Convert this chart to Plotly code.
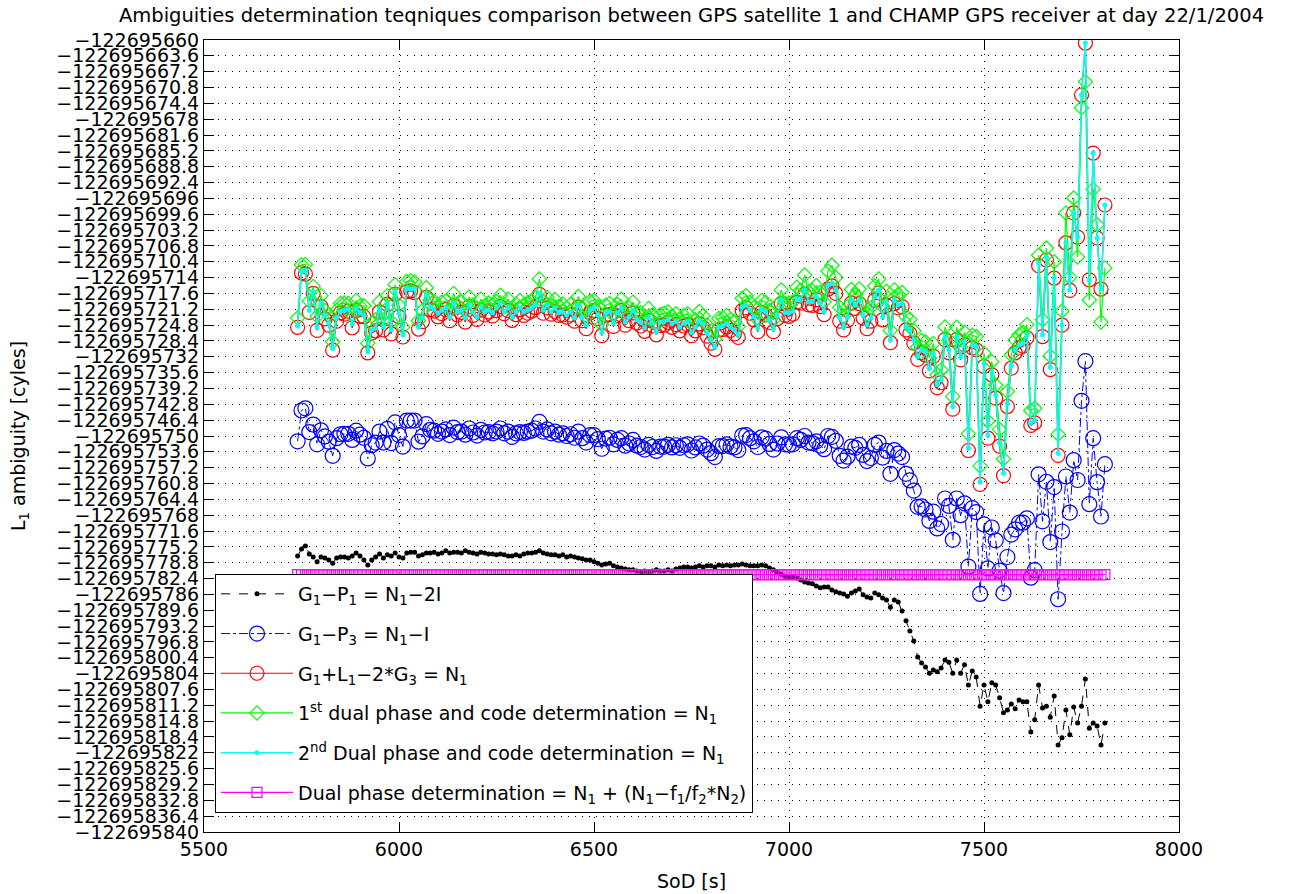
import plotly.graph_objects as go

# ---------------- data ----------------
BASE = -122695000.0                      # values below are offsets from this
SOD = list(range(5740, 7811, 10))        # seconds of day, 10 s sampling (208 epochs)

# G1-P1 = N1-2I  (black)
G1P1 = [
 -777.3, -775.7, -775.0, -776.8, -777.5, -778.6, -777.5, -777.7, -778.2, -778.9,
 -777.7, -777.5, -777.5, -777.7, -777.3, -776.6, -777.3, -778.2, -779.3, -778.2,
 -777.5, -776.8, -777.7, -777.0, -777.3, -776.6, -777.5, -777.7, -776.6, -776.4,
 -776.4, -777.3, -777.0, -776.6, -776.6, -776.4, -776.8, -776.6, -776.1, -776.6,
 -776.4, -776.4, -776.6, -776.1, -776.4, -776.6, -776.8, -776.4, -776.6, -776.8,
 -776.8, -777.0, -776.8, -777.0, -777.3, -777.3, -777.0, -777.3, -776.8, -776.6,
 -776.6, -776.4, -776.1, -776.6, -776.8, -777.0, -777.0, -777.3, -777.0, -777.5,
 -777.3, -777.5, -777.7, -777.9, -778.2, -778.2, -778.6, -778.9, -779.3, -779.1,
 -778.9, -779.5, -779.8, -780.0, -780.2, -780.4, -780.4, -780.7, -780.9, -780.7,
 -780.9, -780.7, -780.4, -780.7, -780.7, -780.4, -780.7, -780.2, -780.0, -779.8,
 -779.8, -780.0, -779.8, -779.5, -779.8, -779.5, -779.5, -779.8, -779.3, -779.5,
 -779.3, -779.5, -779.3, -779.3, -779.1, -779.3, -779.5, -779.5, -779.5, -779.3,
 -779.5, -780.0, -780.4, -780.9, -781.4, -781.8, -782.0, -782.0, -782.3, -782.7,
 -783.2, -783.4, -783.6, -784.1, -784.5, -784.3, -784.3, -785.0, -785.4, -785.7,
 -785.9, -786.4, -785.7, -785.2, -784.8, -786.1, -786.6, -786.8, -785.7, -786.1,
 -786.8, -787.3, -788.9, -787.3, -787.7, -789.8, -792.0, -794.3, -796.6, -800.2,
 -801.6, -802.5, -803.9, -803.2, -803.6, -802.7, -800.9, -801.4, -803.9, -800.9,
 -803.9, -802.0, -806.6, -803.4, -804.8, -811.4, -806.6, -810.4, -806.1, -806.6,
 -809.5, -812.9, -812.3, -810.9, -812.0, -810.0, -810.4, -810.4, -817.3, -814.5,
 -806.6, -811.8, -811.4, -813.9, -809.1, -820.2, -818.6, -812.3, -817.9, -811.6,
 -815.2, -811.4, -805.2, -816.4, -815.2, -815.9, -820.2, -815.2]

# G1-P3 = N1-I  (blue)
G1P3 = [
 -751.2, -744.2, -743.7, -749.1, -747.4, -751.9, -748.7, -750.1, -751.3, -754.5,
 -750.5, -749.6, -749.5, -749.5, -750.9, -748.8, -749.7, -750.4, -755.1, -752.1,
 -751.5, -749.0, -751.5, -748.4, -751.6, -746.9, -749.8, -752.4, -746.5, -746.5,
 -746.5, -751.3, -750.1, -747.3, -748.6, -748.8, -749.5, -749.0, -748.5, -749.8,
 -748.1, -749.1, -749.0, -749.7, -748.3, -749.2, -749.9, -748.6, -749.2, -749.1,
 -749.4, -749.0, -748.3, -749.4, -749.0, -750.2, -749.4, -749.1, -749.3, -749.0,
 -748.8, -748.3, -746.8, -749.0, -748.5, -749.4, -749.0, -749.7, -749.4, -750.0,
 -749.6, -750.4, -749.0, -750.5, -751.5, -749.8, -749.8, -750.7, -752.9, -750.6,
 -750.4, -751.9, -750.9, -750.5, -752.2, -751.7, -750.9, -752.2, -752.5, -753.1,
 -752.0, -752.5, -753.4, -752.4, -752.4, -752.0, -752.6, -752.1, -752.7, -752.1,
 -751.9, -753.3, -752.6, -751.7, -752.2, -753.1, -753.9, -754.8, -752.3, -752.3,
 -751.9, -752.4, -752.6, -753.2, -749.9, -749.8, -750.5, -751.2, -752.5, -750.3,
 -750.6, -751.8, -753.1, -751.7, -750.3, -751.9, -752.0, -751.9, -750.5, -750.9,
 -750.0, -751.5, -751.6, -751.2, -752.2, -753.0, -750.0, -750.2, -751.1, -754.5,
 -755.6, -754.7, -752.4, -752.7, -752.0, -754.3, -755.7, -755.0, -752.0, -751.5,
 -754.9, -753.4, -758.6, -753.2, -754.0, -754.8, -758.6, -760.1, -762.4, -766.1,
 -766.0, -766.7, -769.3, -767.2, -771.0, -770.0, -764.2, -765.9, -773.6, -764.2,
 -768.0, -765.3, -779.7, -766.4, -767.3, -785.9, -770.1, -780.1, -770.8, -773.7,
 -780.6, -785.7, -777.5, -772.4, -771.2, -769.7, -769.7, -768.7, -782.2, -780.5,
 -758.7, -769.4, -760.4, -774.1, -761.6, -787.1, -771.7, -759.2, -767.4, -755.5,
 -760.0, -742.0, -733.0, -765.5, -750.5, -760.5, -768.3, -756.4]

# G1+L1-2*G3 = N1  (red)
G1L1G3 = [
 -725.3, -712.9, -713.2, -721.9, -717.6, -726.0, -720.6, -723.4, -724.8, -730.5,
 -723.9, -722.0, -722.3, -721.6, -725.4, -721.5, -722.8, -722.9, -731.1, -726.6,
 -726.1, -721.8, -725.9, -720.1, -726.8, -717.8, -722.9, -727.5, -717.2, -717.0,
 -717.4, -725.7, -724.0, -718.5, -721.3, -721.6, -722.9, -722.2, -721.3, -723.8,
 -720.4, -722.5, -721.9, -724.1, -720.6, -722.6, -723.5, -721.4, -722.5, -721.8,
 -722.7, -721.5, -720.6, -722.2, -721.5, -723.7, -722.4, -721.3, -722.6, -722.1,
 -721.6, -720.8, -717.8, -722.1, -720.9, -722.3, -721.7, -722.6, -722.5, -723.0,
 -722.5, -723.9, -720.7, -723.8, -725.6, -722.0, -721.5, -723.3, -727.2, -722.6,
 -722.4, -725.1, -722.7, -721.5, -724.8, -723.8, -722.0, -724.3, -725.0, -726.2,
 -723.7, -725.0, -727.0, -724.9, -724.8, -724.2, -725.3, -724.7, -726.1, -725.0,
 -724.7, -727.2, -726.1, -724.5, -725.4, -727.3, -728.9, -730.3, -725.9, -725.8,
 -725.2, -726.0, -726.8, -727.6, -721.5, -720.9, -722.1, -723.6, -726.3, -721.9,
 -722.5, -724.2, -726.3, -723.3, -719.9, -722.6, -722.8, -722.3, -719.6, -719.8,
 -717.8, -720.2, -720.3, -719.0, -720.6, -722.4, -716.6, -715.9, -717.6, -723.9,
 -725.9, -723.7, -719.8, -721.0, -719.9, -723.2, -725.6, -723.9, -719.1, -717.5,
 -723.6, -720.3, -728.8, -719.9, -720.9, -720.6, -725.9, -726.7, -728.9, -732.6,
 -731.1, -731.6, -735.2, -731.9, -739.0, -737.9, -728.1, -731.1, -743.9, -728.1,
 -732.7, -729.3, -753.3, -730.0, -730.4, -761.0, -734.2, -750.5, -736.1, -741.4,
 -752.3, -759.0, -743.3, -734.6, -731.1, -730.0, -729.6, -727.7, -747.6, -747.0,
 -711.3, -727.4, -710.0, -734.9, -714.1, -754.4, -724.8, -706.1, -716.9, -699.3,
 -704.8, -672.5, -660.7, -714.5, -685.7, -705.0, -716.6, -697.5]

# 1st dual phase and code determination = N1  (green)
DUAL1 = [
 -723.2, -711.1, -711.0, -719.3, -716.0, -722.8, -718.1, -721.5, -722.4, -728.6,
 -721.5, -719.9, -719.8, -719.9, -722.6, -719.2, -720.5, -720.4, -728.9, -724.3,
 -723.6, -719.5, -723.7, -718.1, -724.0, -715.6, -720.3, -725.2, -714.9, -714.7,
 -715.0, -723.8, -721.5, -716.3, -719.1, -719.4, -720.8, -719.6, -719.3, -721.5,
 -717.6, -720.3, -719.5, -721.6, -718.4, -720.2, -721.1, -718.9, -720.4, -719.8,
 -720.1, -719.4, -718.0, -720.2, -718.9, -721.4, -720.0, -719.2, -720.3, -719.6,
 -719.2, -718.6, -714.3, -719.5, -718.5, -720.3, -719.0, -720.5, -720.0, -720.9,
 -720.1, -721.4, -718.3, -721.2, -723.0, -719.4, -719.2, -720.6, -724.7, -720.3,
 -719.9, -722.5, -720.1, -718.9, -722.3, -720.9, -719.6, -721.9, -722.0, -723.6,
 -721.0, -722.5, -724.6, -722.4, -722.1, -721.8, -722.8, -722.2, -723.4, -722.6,
 -722.2, -724.6, -723.6, -721.7, -722.7, -724.8, -726.2, -727.9, -723.3, -723.1,
 -722.6, -723.5, -724.0, -725.1, -718.7, -718.1, -719.6, -720.8, -723.6, -719.2,
 -719.6, -721.5, -723.6, -720.3, -716.8, -719.9, -719.8, -719.5, -716.2, -716.9,
 -713.4, -717.2, -717.0, -715.8, -717.4, -719.5, -712.5, -711.2, -714.0, -720.8,
 -722.8, -720.6, -716.7, -717.9, -716.6, -720.1, -722.2, -720.8, -715.9, -714.3,
 -720.5, -717.1, -726.0, -716.8, -717.8, -717.4, -722.8, -723.5, -726.1, -729.8,
 -728.3, -728.6, -732.3, -729.0, -736.1, -735.0, -725.2, -728.2, -741.0, -725.3,
 -729.8, -726.4, -749.5, -727.1, -727.4, -756.8, -731.2, -746.6, -733.1, -738.4,
 -748.5, -755.2, -739.9, -731.6, -728.2, -727.0, -726.5, -724.7, -744.2, -743.7,
 -708.9, -723.6, -707.3, -731.8, -710.4, -749.6, -721.6, -699.3, -713.9, -695.9,
 -709.3, -675.4, -669.5, -719.1, -693.9, -702.0, -724.1, -711.8]

# 2nd dual phase and code determination = N1  (cyan)
DUAL2 = [
 -725.0, -712.6, -712.4, -721.4, -717.2, -725.2, -719.8, -722.5, -724.4, -730.1,
 -723.2, -721.7, -721.4, -721.2, -724.5, -721.0, -722.0, -722.5, -730.8, -725.9,
 -725.5, -721.2, -725.2, -719.8, -725.9, -717.2, -722.1, -727.0, -716.4, -716.6,
 -716.6, -725.3, -723.2, -717.9, -720.6, -721.2, -722.1, -721.4, -720.9, -723.0,
 -719.8, -721.8, -721.4, -723.2, -720.2, -721.8, -723.0, -720.7, -721.8, -721.4,
 -722.0, -720.9, -719.8, -721.8, -720.7, -723.0, -721.8, -720.9, -721.8, -721.4,
 -720.9, -720.2, -717.5, -721.4, -720.2, -721.8, -720.9, -722.0, -721.8, -722.5,
 -721.8, -723.2, -720.2, -723.0, -724.8, -721.4, -720.9, -722.5, -726.4, -722.0,
 -721.8, -724.3, -722.0, -720.9, -724.1, -723.0, -721.4, -723.6, -724.1, -725.4,
 -723.0, -724.3, -726.4, -724.1, -724.0, -723.6, -724.5, -724.0, -725.3, -724.4,
 -724.0, -726.5, -725.3, -723.8, -724.5, -726.7, -728.2, -729.8, -725.2, -725.0,
 -724.5, -725.3, -725.9, -727.0, -720.7, -720.2, -721.4, -722.9, -725.5, -721.2,
 -721.7, -723.6, -725.7, -722.5, -719.1, -722.0, -722.0, -721.7, -718.7, -719.1,
 -716.8, -719.5, -719.5, -718.3, -719.8, -721.7, -715.7, -715.3, -716.8, -723.2,
 -725.2, -722.9, -719.1, -720.2, -719.1, -722.5, -724.8, -723.2, -718.3, -716.8,
 -722.9, -719.5, -728.2, -719.1, -720.2, -719.8, -725.2, -725.9, -728.2, -732.0,
 -730.4, -730.8, -734.6, -731.2, -738.3, -737.2, -727.4, -730.4, -743.3, -727.4,
 -732.0, -728.6, -752.7, -729.3, -729.7, -760.4, -733.5, -749.8, -735.4, -740.7,
 -751.6, -758.4, -742.6, -733.9, -730.4, -729.3, -728.9, -727.0, -747.0, -746.4,
 -710.7, -727.0, -709.3, -734.3, -714.1, -753.9, -724.8, -706.1, -716.8, -699.3,
 -704.8, -672.5, -660.7, -714.5, -685.7, -705.0, -716.4, -697.5]

# Dual phase determination (constant level, magenta)
DUALPHASE_LEVEL = -781.5

# y tick offsets (every 3.6 cycles)
YTICK_OFFSETS = [
 -660, -663.6, -667.2, -670.8, -674.4, -678, -681.6, -685.2, -688.8, -692.4,
 -696, -699.6, -703.2, -706.8, -710.4, -714, -717.6, -721.2, -724.8, -728.4,
 -732, -735.6, -739.2, -742.8, -746.4, -750, -753.6, -757.2, -760.8, -764.4,
 -768, -771.6, -775.2, -778.8, -782.4, -786, -789.6, -793.2, -796.8, -800.4,
 -804, -807.6, -811.2, -814.8, -818.4, -822, -825.6, -829.2, -832.8, -836.4, -840]
XTICKS = [5500, 6000, 6500, 7000, 7500, 8000]

LEGEND = [
    "G<sub>1</sub>\u2212P<sub>1</sub> = N<sub>1</sub>\u22122I",
    "G<sub>1</sub>\u2212P<sub>3</sub> = N<sub>1</sub>\u2212I",
    "G<sub>1</sub>+L<sub>1</sub>\u22122*G<sub>3</sub> = N<sub>1</sub>",
    "1<sup>st</sup> dual phase and code determination = N<sub>1</sub>",
    "2<sup>nd</sup> Dual phase and code determination = N<sub>1</sub>",
    "Dual phase determination = N<sub>1</sub> + (N<sub>1</sub>\u2212f<sub>1</sub>/f<sub>2</sub>*N<sub>2</sub>)",
]

# ---------------- figure ----------------
def absval(offs):
    return [BASE + v for v in offs]

FONT = "DejaVu Sans"
fig = go.Figure()

fig.add_trace(go.Scatter(
    x=SOD, y=absval(G1P1), name=LEGEND[0], legendgroup="a", mode="lines+markers",
    line=dict(color="black", width=1, dash="dash"),
    marker=dict(symbol="circle", size=5, color="black")))
fig.add_trace(go.Scatter(
    x=SOD, y=absval(G1P3), name=LEGEND[1], legendgroup="b", mode="lines+markers",
    line=dict(color="#0000FF", width=1, dash="dashdot"),
    marker=dict(symbol="circle-open", size=15, color="#0000FF", line=dict(width=1.2))))
fig.add_trace(go.Scatter(
    x=SOD, y=absval(G1L1G3), name=LEGEND[2], legendgroup="c", mode="lines+markers",
    line=dict(color="#FF0000", width=1.2),
    marker=dict(symbol="circle-open", size=14, color="#FF0000", line=dict(width=1.2))))
fig.add_trace(go.Scatter(
    x=SOD, y=absval(DUAL1), name=LEGEND[3], legendgroup="d", mode="lines+markers",
    line=dict(color="#00FF00", width=1.2),
    marker=dict(symbol="diamond-open", size=11, color="#00FF00", line=dict(width=1.2))))
fig.add_trace(go.Scatter(
    x=SOD, y=absval(DUAL2), name=LEGEND[4], legendgroup="e", mode="lines+markers",
    line=dict(color="#00FFFF", width=1.5),
    marker=dict(symbol="circle", size=5, color="#00FFFF")))
fig.add_trace(go.Scatter(
    x=SOD, y=[BASE + DUALPHASE_LEVEL for _ in SOD], name=LEGEND[5], legendgroup="f",
    mode="lines+markers",
    line=dict(color="#FF00FF", width=1.2),
    marker=dict(symbol="square-open", size=10, color="#FF00FF", line=dict(width=1.2))))

ytickvals = [BASE + v for v in YTICK_OFFSETS]
yticktext = ["\u2212122695" + ("%g" % abs(v)) for v in YTICK_OFFSETS]

axis_common = dict(
    showline=True, linecolor="black", linewidth=1, mirror="ticks",
    ticks="inside", ticklen=10, tickwidth=1, tickcolor="black",
    showgrid=True, gridcolor="#000000", gridwidth=1, griddash="1px,6px",
    zeroline=False, tickfont=dict(family=FONT, size=19, color="black"),
)

fig.update_layout(
    width=1292, height=894,
    margin=dict(l=204, r=113, t=40, b=62),
    paper_bgcolor="white", plot_bgcolor="white",
    font=dict(family=FONT, size=19, color="black"),
    title=dict(
        text="Ambiguities determination teqniques comparison between GPS satellite 1 and CHAMP GPS receiver at day 22/1/2004",
        x=0.5, xref="paper", xanchor="center", y=1 - 15 / 894, yref="container", yanchor="middle",
        font=dict(family=FONT, size=19.5, color="black")),
    xaxis=dict(range=[5500, 8000], tickvals=XTICKS, ticktext=[str(t) for t in XTICKS], **axis_common),
    yaxis=dict(range=[BASE - 840, BASE - 660], tickvals=ytickvals, ticktext=yticktext, **axis_common),
    showlegend=True,
    legend=dict(
        x=11 / 975, y=(832 - 574) / 792, xanchor="left", yanchor="top",
        bgcolor="white", bordercolor="black", borderwidth=1,
        font=dict(family=FONT, size=19, color="black"),
        itemwidth=72, tracegroupgap=12, traceorder="grouped"),
    annotations=[
        dict(text="L<sub>1</sub> ambiguity [cyles]", textangle=-90, xref="paper", yref="paper",
             x=(19 - 204) / 975, y=0.5, xanchor="center", yanchor="middle", showarrow=False,
             font=dict(family=FONT, size=19, color="black")),
        dict(text="SoD [s]", xref="paper", yref="paper", x=0.5, y=(832 - 881) / 792,
             xanchor="center", yanchor="middle", showarrow=False,
             font=dict(family=FONT, size=19, color="black")),
    ],
)

fig.write_html("out.html", config={"displayModeBar": False},
               post_script="document.body.style.margin='0px';")
